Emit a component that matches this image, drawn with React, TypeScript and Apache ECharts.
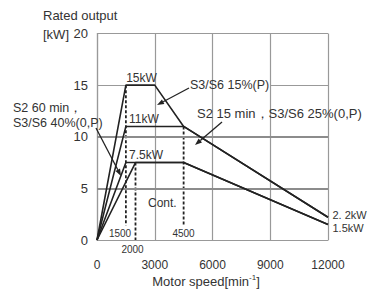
import React, { useEffect, useRef } from "react";
import * as echarts from "echarts";

// Axis ticks
const xTicks = [0, 3000, 6000, 9000, 12000];
const yTicks = [0, 5, 10, 15, 20];

// Output curves (speed [min^-1], output [kW])
const speed15 = [0, 1500, 3000, 4500, 12000];
const power15 = [0, 15, 15, 11, 2.2];
const speed25 = [0, 1500, 4500, 12000];
const power25 = [0, 11, 11, 2.2];
const speed40 = [0, 1500, 4500, 12000];
const power40 = [0, 7.5, 7.5, 1.5];
const speedCont = [0, 2000, 4500, 12000];
const powerCont = [0, 7.5, 7.5, 1.5];

// Dotted guide lines
const guideSpeeds = [1500, 2000, 4500];
const guideTops = [15, 7.5, 11];
const guideBottoms = [1.4, 0, 1.4];

const FONT = "'Liberation Sans', Arial, Helvetica, sans-serif";
const INK = "#222";
const TXT = "#333";

function pairs(xs: number[], ys: number[]) {
  return xs.map((x, i) => [x, ys[i]]);
}

function arrow(x1: number, y1: number, x2: number, y2: number) {
  const dx = x2 - x1, dy = y2 - y1, L = Math.hypot(dx, dy);
  const ux = dx / L, uy = dy / L;
  const hl = 7, hw = 2.6;
  const bx = x2 - ux * hl, by = y2 - uy * hl;
  const px = -uy, py = ux;
  return [
    { type: "line", z: 100, shape: { x1, y1, x2: bx, y2: by }, style: { stroke: INK, lineWidth: 1.3 } },
    {
      type: "polygon", z: 100,
      shape: { points: [[x2, y2], [bx + px * hw, by + py * hw], [bx - px * hw, by - py * hw]] },
      style: { fill: INK },
    },
  ];
}

function txt(text: string, x: number, y: number, size: number, align = "left") {
  return {
    type: "text", z: 100, x, y,
    style: {
      text, fill: TXT, fontSize: size, fontFamily: FONT,
      align, textAlign: align, verticalAlign: "middle", textVerticalAlign: "middle",
    },
  };
}

export default function App() {
  const ref = useRef<HTMLDivElement>(null);
  useEffect(() => {
    if (!ref.current) return;
    const chart = echarts.init(ref.current, null, { renderer: "svg" });
    const curve = (name: string, xs: number[], ys: number[]) => ({
      name, type: "line", data: pairs(xs, ys), showSymbol: false, symbol: "none",
      lineStyle: { color: INK, width: 1.6 }, z: 5, silent: true,
    });
    const guides = guideSpeeds.map((s, i) => ({
      type: "line", data: [[s, guideTops[i]], [s, guideBottoms[i]]], showSymbol: false, symbol: "none",
      lineStyle: { color: INK, width: 1.8, type: [3, 2] }, z: 4, silent: true,
    }));
    const grey = "#8c8c8c";
    const gridHelper = {
      type: "line", data: [], silent: true,
      markLine: {
        silent: true, symbol: ["none", "none"], label: { show: false },
        animation: false,
        data: [
          { yAxis: 5, lineStyle: { color: grey, width: 2, type: "solid" } },
          { yAxis: 10, lineStyle: { color: grey, width: 2, type: "solid" } },
          { yAxis: 20, lineStyle: { color: "#999", width: 1.2, type: "solid" } },
          [{ coord: [0, 15], lineStyle: { color: "#999", width: 1, type: "solid" } }, { coord: [1500, 15] }],
          [{ coord: [9000, 15], lineStyle: { color: "#999", width: 1, type: "solid" } }, { coord: [12000, 15] }],
        ],
      },
    };
    chart.setOption({
      animation: false,
      grid: { left: 97, top: 33.5, width: 231, height: 206.5, containLabel: false },
      xAxis: {
        type: "value", min: xTicks[0], max: xTicks[xTicks.length - 1], interval: 3000,
        axisLine: { show: true, lineStyle: { color: "#999", width: 1.2 } },
        axisTick: { show: false },
        axisLabel: {
          margin: 19, fontSize: 12, color: TXT, fontFamily: FONT,
          formatter: (v: number) => String(v),
        },
        splitLine: { show: true, lineStyle: { color: "#999", width: 1.2 } },
      },
      yAxis: {
        type: "value", min: yTicks[0], max: yTicks[yTicks.length - 1], interval: 5,
        axisLine: { show: true, lineStyle: { color: "#999", width: 1.2 } },
        axisTick: { show: false },
        axisLabel: { margin: 9, fontSize: 13, color: TXT, fontFamily: FONT },
        splitLine: { show: false },
      },
      series: [
        gridHelper,
        ...guides,
        curve("S3/S6 15%(P)", speed15, power15),
        curve("S2 15 min，S3/S6 25%(0,P)", speed25, power25),
        curve("S2 60 min，S3/S6 40%(0,P)", speed40, power40),
        curve("Cont.", speedCont, powerCont),
      ],
      graphic: [
        txt("Rated output", 43, 15, 13),
        txt("[kW]", 43, 34, 13),
        {
          type: "text", z: 100, x: 206, y: 281,
          style: {
            text: "{a|Motor speed[min}{s|-1}{a|]}",
            align: "center", textAlign: "center", verticalAlign: "middle", textVerticalAlign: "middle",
            rich: {
              a: { fontSize: 13, fontFamily: FONT, fill: TXT, color: TXT, lineHeight: 15 },
              s: { fontSize: 8, fontFamily: FONT, fill: TXT, color: TXT, verticalAlign: "top", lineHeight: 15 },
            },
          },
        },
        txt("15kW", 141.5, 77.5, 12, "center"),
        txt("11kW", 129, 119, 12),
        txt("7.5kW", 129, 155, 12),
        txt("Cont.", 148, 202.5, 12),
        txt("1500", 120, 233.5, 10, "center"),
        txt("2000", 132.5, 249, 10, "center"),
        txt("4500", 183.5, 233.5, 10, "center"),
        txt("S3/S6 15%(P)", 190, 84.5, 12.5),
        txt("S2 15 min，S3/S6 25%(0,P)", 197, 113.5, 13),
        txt("S2 60 min，", 13, 108, 12.5),
        txt("S3/S6 40%(0,P)", 13, 122.5, 12.5),
        txt("2. 2kW", 332.5, 215, 11),
        txt("1.5kW", 332.5, 228, 11),
        ...arrow(189, 88, 157, 105),
        ...arrow(222, 122, 195, 145),
        ...arrow(96, 128, 121, 176),
      ],
    });
    return () => chart.dispose();
  }, []);
  return (
    <div
      ref={ref}
      style={{ position: "fixed", left: 0, top: 0, width: 372, height: 293, background: "#fff" }}
    />
  );
}
